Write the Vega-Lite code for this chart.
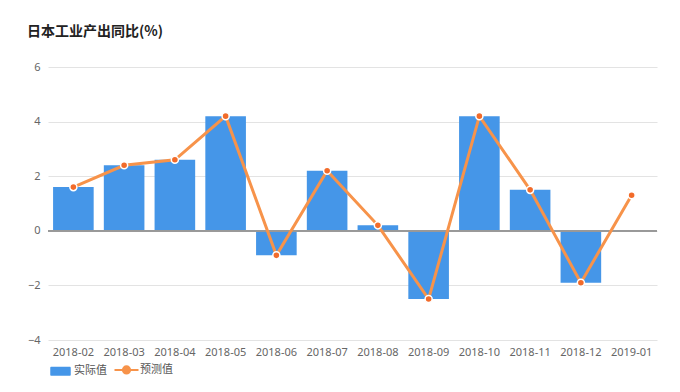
{
  "$schema": "https://vega.github.io/schema/vega-lite/v6.json",
  "width": 609,
  "height": 273,
  "autosize": "none",
  "padding": {"left": 48, "top": 67, "right": 23, "bottom": 52},
  "background": "white",
  "title": {"text": "日本工业产出同比(%)", "anchor": "start", "frame": "group", "dx": -21, "offset": 22, "fontSize": 14, "fontWeight": "bold", "color": "#222222", "font": "Noto Sans CJK SC"},
  "data": {"values": [
    {"month": "2018-02", "series": "实际值", "value": 1.6},
    {"month": "2018-03", "series": "实际值", "value": 2.4},
    {"month": "2018-04", "series": "实际值", "value": 2.6},
    {"month": "2018-05", "series": "实际值", "value": 4.2},
    {"month": "2018-06", "series": "实际值", "value": -0.9},
    {"month": "2018-07", "series": "实际值", "value": 2.2},
    {"month": "2018-08", "series": "实际值", "value": 0.2},
    {"month": "2018-09", "series": "实际值", "value": -2.5},
    {"month": "2018-10", "series": "实际值", "value": 4.2},
    {"month": "2018-11", "series": "实际值", "value": 1.5},
    {"month": "2018-12", "series": "实际值", "value": -1.9},
    {"month": "2018-02", "series": "预测值", "value": 1.6},
    {"month": "2018-03", "series": "预测值", "value": 2.4},
    {"month": "2018-04", "series": "预测值", "value": 2.6},
    {"month": "2018-05", "series": "预测值", "value": 4.2},
    {"month": "2018-06", "series": "预测值", "value": -0.9},
    {"month": "2018-07", "series": "预测值", "value": 2.2},
    {"month": "2018-08", "series": "预测值", "value": 0.2},
    {"month": "2018-09", "series": "预测值", "value": -2.5},
    {"month": "2018-10", "series": "预测值", "value": 4.2},
    {"month": "2018-11", "series": "预测值", "value": 1.5},
    {"month": "2018-12", "series": "预测值", "value": -1.9},
    {"month": "2019-01", "series": "预测值", "value": 1.3}
  ]},
  "encoding": {
    "x": {"field": "month", "type": "nominal", "sort": null,
      "scale": {"paddingInner": 0.2, "paddingOuter": 0.1},
      "axis": {"title": null, "labelAngle": 0, "ticks": false, "domain": false, "labelColor": "#666666", "labelFontSize": 11, "labelPadding": 6, "labelFont": "Noto Sans"}},
    "y": {"field": "value", "type": "quantitative",
      "scale": {"domain": [-4, 6], "nice": false},
      "axis": {"title": null, "values": [-4, -2, 0, 2, 4, 6], "domain": false, "ticks": false, "gridColor": "#e3e3e3", "labelColor": "#666666", "labelFontSize": 11, "labelPadding": 8, "labelFont": "Noto Sans"}},
    "color": {"field": "series", "type": "nominal",
      "scale": {"domain": ["实际值", "预测值"], "range": ["#4596e8", "#f7934a"]},
      "legend": {"title": null, "orient": "none", "legendX": 0, "legendY": 297, "direction": "horizontal",
        "symbolOffset": 7, "labelOffset": 8, "columnPadding": 3,
        "labelColor": "#555555", "labelFontSize": 11, "labelFont": "Noto Sans CJK SC",
        "encode": {"symbols": {"update": {
          "shape": {"signal": "datum.value === '实际值' ? 'M-0.9,-0.45H0.9A0.1,0.1 0 0 1 1,-0.35V0.35A0.1,0.1 0 0 1 0.9,0.45H-0.9A0.1,0.1 0 0 1 -1,0.35V-0.35A0.1,0.1 0 0 1 -0.9,-0.45Z' : 'M-1,0H1M0.3,0A0.3,0.3 0 1,1 -0.3,0A0.3,0.3 0 1,1 0.3,0Z'"},
          "size": {"signal": "datum.value === '实际值' ? 420 : 576"},
          "fill": {"signal": "datum.value === '实际值' ? '#4596e8' : '#f26b2a'"},
          "stroke": {"signal": "datum.value === '实际值' ? '#4596e8' : '#f7934a'"},
          "strokeWidth": {"signal": "datum.value === '实际值' ? 0 : 2"},
          "opacity": {"value": 1}
        }}}}}
  },
  "layer": [
    {"transform": [{"filter": "datum.series === '实际值'"}], "mark": {"type": "bar", "opacity": 1}},
    {"mark": {"type": "rule", "color": "#999999", "strokeWidth": 1}, "encoding": {"y": {"datum": 0}, "x": null, "color": null}},
    {"transform": [{"filter": "datum.series === '预测值'"}], "mark": {"type": "line", "strokeWidth": 3}},
    {"transform": [{"filter": "datum.series === '预测值'"}], "mark": {"type": "point", "filled": true, "size": 50, "stroke": "white", "strokeWidth": 1.5, "opacity": 1}, "encoding": {"color": {"value": "#f26b2a"}}}
  ],
  "config": {"view": {"stroke": null}}
}
